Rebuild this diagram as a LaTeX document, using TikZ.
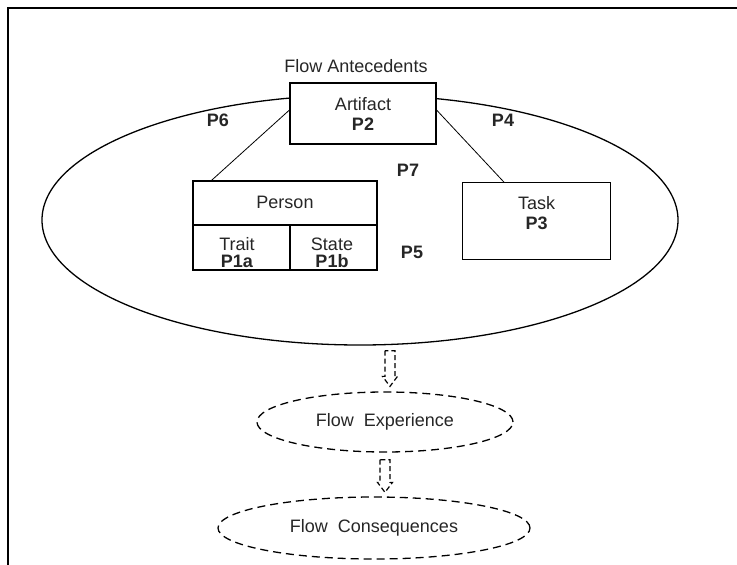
\documentclass[tikz,border=0pt]{standalone}
\usepackage{fontspec}
\setmainfont{Liberation Sans}
\usetikzlibrary{shapes.geometric}
\begin{document}
\begin{tikzpicture}[x=1pt,y=-1pt,
  every node/.style={font=\fontsize{18}{20}\selectfont, text=black!85},
  box/.style={draw, line width=1.1pt, fill=white, inner sep=0pt},
  txt/.style={inner sep=0pt, align=center},
  plabel/.style={inner sep=0pt, font=\fontsize{18}{20}\selectfont\bfseries},
  solidell/.style={ellipse, draw, line width=1.3pt, inner sep=0pt},
  dashell/.style={ellipse, draw, dash pattern=on 8pt off 5pt, line width=1.3pt, inner sep=0pt},
  hollowarrow/.style={draw, line width=1.2pt, dash pattern=on 5pt off 3pt, line join=miter},
  link/.style={draw, line width=0.8pt},
]
\useasboundingbox (0,0) rectangle (737,565);

% outer frame (left and top edges)
\draw[line width=2pt] (8,565) -- (8,8) -- (737,8);

% antecedents region
\node[solidell, minimum width=636pt, minimum height=250pt] (bigell) at (360,220) {};
\node[txt] (antlbl) at (356,66) {Flow Antecedents};

% artifact
\node[box, minimum width=146pt, minimum height=61pt] (artifact) at (363,113.5) {};
\node[txt] (artifacttxt) at (363,114) {Artifact\\\textbf{P2}};

% person block
\node[box, minimum width=184pt, minimum height=44pt] (personhead) at (285,203) {};
\node[box, minimum width=97pt, minimum height=45pt] (trait) at (241.5,247.5) {};
\node[box, minimum width=87pt, minimum height=45pt] (state) at (333.5,247.5) {};
\node[txt] (persontxt) at (285,202) {Person};
\node[txt] (traittxt) at (237,252.5) {Trait\\[-3pt]\textbf{P1a}};
\node[txt] (statetxt) at (332,252.5) {State\\[-3pt]\textbf{P1b}};

% task
\node[box, minimum width=148pt, minimum height=77pt] (task) at (536.7,221.4) {};
\node[txt] (tasktxt) at (536.7,213) {Task\\\textbf{P3}};

% links
\draw[link] ([yshift=3.5pt]artifact.west) -- ([xshift=19pt]personhead.north west);
\draw[link] ([yshift=3.5pt]artifact.east) -- ([xshift=42pt]task.north west);

% proposition labels
\node[plabel] (p6) at (218,120) {P6};
\node[plabel] (p4) at (503,120) {P4};
\node[plabel] (p7) at (408,170) {P7};
\node[plabel] (p5) at (412,252) {P5};

% experience and consequences
\node[dashell, minimum width=256pt, minimum height=60pt] (exper) at (385,422) {Flow\ \ Experience};
\node[dashell, minimum width=312pt, minimum height=62pt] (conseq) at (374,528) {Flow\ \ Consequences};

% hollow dashed arrows
\coordinate (a1s) at ([xshift=30pt,yshift=-5pt]bigell.south);
\coordinate (a1e0) at (a1s |- exper.north);
\coordinate (a1e) at ([yshift=5pt]a1e0);
\draw[hollowarrow] ([xshift=-5pt]a1s) -- ([xshift=-5pt,yshift=10pt]a1e) -- ([xshift=-7.5pt,yshift=10pt]a1e)
  -- (a1e) -- ([xshift=7.5pt,yshift=10pt]a1e) -- ([xshift=5pt,yshift=10pt]a1e) -- ([xshift=5pt]a1s) -- cycle;

\coordinate (a2s) at ([yshift=-7pt]exper.south);
\coordinate (a2e0) at (a2s |- conseq.north);
\coordinate (a2e) at ([yshift=4pt]a2e0);
\draw[hollowarrow] ([xshift=-5pt]a2s) -- ([xshift=-5pt,yshift=10pt]a2e) -- ([xshift=-7.5pt,yshift=10pt]a2e)
  -- (a2e) -- ([xshift=7.5pt,yshift=10pt]a2e) -- ([xshift=5pt,yshift=10pt]a2e) -- ([xshift=5pt]a2s) -- cycle;
\end{tikzpicture}
\end{document}
